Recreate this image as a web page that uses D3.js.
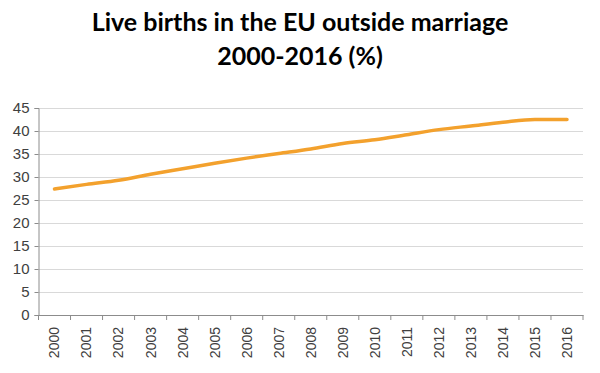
<!DOCTYPE html>
<html>
<head>
<meta charset="utf-8">
<script src="https://cdn.jsdelivr.net/npm/d3@7"></script>
<style>
  body { margin: 0; background: #fff; }
  svg { display: block; }
</style>
</head>
<body>
<script>
var w = 600;
var h = 373;

var years = ["2000", "2001", "2002", "2003", "2004", "2005", "2006", "2007", "2008",
             "2009", "2010", "2011", "2012", "2013", "2014", "2015", "2016"];
var births = [27.4, 28.4, 29.3, 30.6, 31.8, 33.0, 34.1, 35.1, 36.1,
              37.3, 38.1, 39.2, 40.3, 41.1, 41.9, 42.5, 42.5]; // % outside marriage
var yTicks = [0, 5, 10, 15, 20, 25, 30, 35, 40, 45];
var titleLines = ["Live births in the EU outside marriage", "2000-2016 (%)"];

var margin = {top: 108, right: 17, bottom: 58, left: 38.5};

var svg = d3.select("body")
            .append("svg")
            .attr("width", w)
            .attr("height", h);

var xscale = d3.scaleBand()
               .domain(years)
               .range([margin.left, w - margin.right]);

var yscale = d3.scaleLinear()
               .domain([0, 45])
               .range([h - margin.bottom, margin.top]);

// Title
svg.selectAll(".title")
   .data(titleLines)
   .enter()
   .append("text")
   .attr("class", "title")
   .attr("x", 300)
   .attr("y", function(d, i) { return 31 + i * 34; })
   .attr("text-anchor", "middle")
   .attr("font-family", "Lato, 'Open Sans', sans-serif")
   .attr("font-weight", "bold")
   .attr("font-size", 25)
   .attr("fill", "#000")
   .text(function(d) { return d; });

// Gridlines
svg.selectAll(".grid")
   .data(yTicks.slice(1))
   .enter()
   .append("line")
   .attr("x1", margin.left)
   .attr("x2", w - margin.right)
   .attr("y1", function(d) { return Math.round(yscale(d)) + 0.5; })
   .attr("y2", function(d) { return Math.round(yscale(d)) + 0.5; })
   .attr("stroke", "#d9d9d9")
   .attr("stroke-width", 1);

// Y axis
var yAxis = svg.append("g")
               .attr("transform", "translate(" + margin.left + ",0)")
               .call(d3.axisLeft(yscale).tickValues(yTicks).tickSize(4).tickPadding(5));

// X axis
var xAxis = svg.append("g")
               .attr("transform", "translate(0," + (h - margin.bottom) + ")")
               .call(d3.axisBottom(xscale).tickSize(0).tickPadding(0));

// tick marks at category boundaries
xAxis.selectAll(".bound")
     .data(years.concat(["end"]))
     .enter()
     .append("line")
     .attr("class", "bound")
     .attr("x1", function(d, i) { return margin.left + i * xscale.bandwidth(); })
     .attr("x2", function(d, i) { return margin.left + i * xscale.bandwidth(); })
     .attr("y1", 0)
     .attr("y2", 5)
     .attr("stroke", "#8c8c8c");

xAxis.selectAll(".tick text")
     .attr("transform", "rotate(-90)")
     .attr("text-anchor", "end")
     .attr("x", -12)
     .attr("y", 0)
     .attr("dy", "0.35em");

[yAxis, xAxis].forEach(function(g) {
    g.select(".domain").attr("stroke", "#8c8c8c");
    g.selectAll(".tick line").attr("stroke", "#8c8c8c");
    g.selectAll("text")
     .attr("font-family", "'Liberation Sans', Arial, sans-serif")
     .attr("font-size", 14)
     .attr("fill", "#404040");
});
yAxis.selectAll(".tick text").attr("font-size", 15);

// Line
var line = d3.line()
             .x(function(d, i) { return xscale(years[i]) + xscale.bandwidth() / 2; })
             .y(function(d) { return yscale(d); })
             .curve(d3.curveMonotoneX);

svg.append("path")
   .datum(births)
   .attr("d", line)
   .attr("fill", "none")
   .attr("stroke", "#f3a12d")
   .attr("stroke-width", 3.5)
   .attr("stroke-linecap", "round");
</script>
</body>
</html>
